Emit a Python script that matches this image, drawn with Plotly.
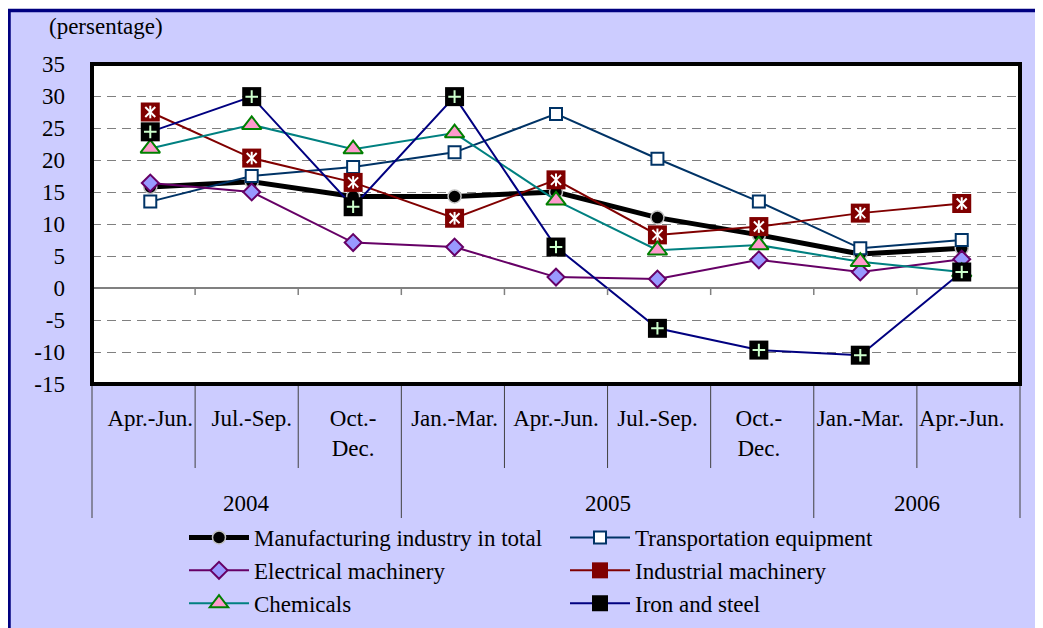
import plotly.graph_objects as go

# ---------------- data ----------------
periods = ["2004 Apr.-Jun.", "2004 Jul.-Sep.", "2004 Oct.-Dec.", "2005 Jan.-Mar.", "2005 Apr.-Jun.",
           "2005 Jul.-Sep.", "2005 Oct.-Dec.", "2006 Jan.-Mar.", "2006 Apr.-Jun."]
years = ["2004", "2004", "2004", "2005", "2005", "2005", "2005", "2006", "2006"]
quarters = ["Apr.-Jun.", "Jul.-Sep.", "Oct.-<br>Dec.", "Jan.-Mar.", "Apr.-Jun.",
            "Jul.-Sep.", "Oct.-<br>Dec.", "Jan.-Mar.", "Apr.-Jun."]

manufacturing = [15.8, 16.6, 14.3, 14.3, 15.0, 11.0, 8.3, 5.3, 6.2]
transportation = [13.5, 17.5, 18.9, 21.2, 27.2, 20.2, 13.5, 6.2, 7.5]
electrical = [16.4, 15.0, 7.1, 6.4, 1.7, 1.4, 4.4, 2.5, 4.5]
industrial = [27.5, 20.3, 16.5, 10.9, 16.9, 8.3, 9.6, 11.7, 13.2]
chemicals = [21.8, 25.5, 21.7, 24.2, 13.7, 5.9, 6.7, 4.1, 2.5]
iron_steel = [24.4, 29.9, 12.7, 29.9, 6.4, -6.3, -9.7, -10.5, 2.5]

y_tickvals = [-15, -10, -5, 0, 5, 10, 15, 20, 25, 30, 35]
y_ticktext = ["-15", "-10", "-5", "0", "5", "10", "15", "20", "25", "30", "35"]

FONT = "Liberation Serif, Times New Roman, serif"
FS = 23

fig = go.Figure()

fig.add_trace(go.Scatter(
    x=periods, y=manufacturing, name="Manufacturing industry in total", mode="lines+markers",
    line=dict(color="black", width=5),
    marker=dict(symbol="circle", size=13, color="black", line=dict(color="#C0C0C0", width=1.5))))

fig.add_trace(go.Scatter(
    x=periods, y=transportation, name="Transportation equipment", mode="lines+markers",
    line=dict(color="#003366", width=2),
    marker=dict(symbol="square", size=12, color="white", line=dict(color="#003366", width=2))))

fig.add_trace(go.Scatter(
    x=periods, y=electrical, name="Electrical machinery", mode="lines+markers",
    line=dict(color="#660066", width=2),
    marker=dict(symbol="diamond", size=13, color="#9999FF", line=dict(color="#660066", width=2))))

fig.add_trace(go.Scatter(
    x=periods, y=industrial, name="Industrial machinery", mode="lines+markers",
    line=dict(color="#800000", width=2),
    marker=dict(symbol="square", size=19, color="#800000", line=dict(color="#800000", width=0))))
fig.add_trace(go.Scatter(
    x=periods, y=industrial, mode="markers", showlegend=False, hoverinfo="skip",
    marker=dict(symbol="x-thin", size=10, line=dict(color="white", width=2))))
fig.add_trace(go.Scatter(
    x=periods, y=industrial, mode="markers", showlegend=False, hoverinfo="skip",
    marker=dict(symbol="line-ns", size=9, line=dict(color="white", width=2))))

fig.add_trace(go.Scatter(
    x=periods, y=chemicals, name="Chemicals", mode="lines+markers",
    line=dict(color="#008080", width=2),
    marker=dict(symbol="triangle-up", size=17, color="#FF99CC", line=dict(color="#008000", width=2))))

fig.add_trace(go.Scatter(
    x=periods, y=iron_steel, name="Iron and steel", mode="lines+markers",
    line=dict(color="#000080", width=2),
    marker=dict(symbol="square", size=19, color="black", line=dict(color="black", width=0))))
fig.add_trace(go.Scatter(
    x=periods, y=iron_steel, mode="markers", showlegend=False, hoverinfo="skip",
    marker=dict(symbol="cross-thin", size=9, line=dict(color="#CCFFCC", width=2))))

# ---------------- decorations ----------------
W, H = 1043, 620            # page adds an 8px body margin
L, R, T, B = 84, 31, 56, 244
pw, ph = W - L - R, H - T - B

shapes = []
# outer chart-area frame
shapes.append(dict(type="rect", xref="paper", yref="paper",
                   x0=(1 - L) / pw, x1=(W + 20 - L) / pw,
                   y0=-(H + 20 - T - ph) / ph, y1=1 + (T - 2.5) / ph,
                   fillcolor="#CCCCFF", line=dict(color="#000080", width=3.5), layer="below"))
# white plot area
shapes.append(dict(type="rect", xref="x domain", yref="y domain", x0=0, x1=1, y0=0, y1=1,
                   fillcolor="white", line=dict(width=0), layer="below"))
n = len(periods)
group_bounds = [0] + [i for i in range(1, n) if years[i] != years[i - 1]] + [n]
for k in range(0, n + 1):
    if 0 < k < n:
        # small ticks on the zero line
        shapes.append(dict(type="line", xref="x domain", yref="y", x0=k / n, x1=k / n, y0=0, y1=-1.1,
                           line=dict(color="#808080", width=1.5)))
    depth = 134 if k in group_bounds else 84
    shapes.append(dict(type="line", xref="x domain", yref="y domain", x0=k / n, x1=k / n,
                       y0=0, y1=-depth / ph, line=dict(color="#404040", width=1)))
# plot border
shapes.append(dict(type="rect", xref="x domain", yref="y domain", x0=0, x1=1, y0=0, y1=1,
                   line=dict(color="black", width=4), layer="above"))

annotations = [dict(text="(persentage)", xref="paper", yref="paper",
                    x=(39 - L) / pw, xanchor="left", y=1 + (T - 19) / ph, yanchor="middle",
                    showarrow=False, font=dict(family=FONT, size=FS, color="black"))]
# year labels, centred under each group of quarters
for a, b in zip(group_bounds[:-1], group_bounds[1:]):
    annotations.append(dict(text=years[a], xref="x domain", yref="y domain",
                            x=(a + b) / 2 / n, xanchor="center", y=-(495 - T - ph) / ph, yanchor="middle",
                            showarrow=False, font=dict(family=FONT, size=FS, color="black")))

fig.update_layout(
    width=W, height=H,
    margin=dict(l=L, r=R, t=T, b=B, autoexpand=False),
    paper_bgcolor="white", plot_bgcolor="white",
    font=dict(family=FONT, size=FS, color="black"),
    showlegend=True,
    legend=dict(orientation="h", x=(176 - L) / pw, xanchor="left", y=-(508 - T - ph) / ph, yanchor="top",
                bgcolor="rgba(0,0,0,0)", font=dict(family=FONT, size=FS, color="black"),
                itemwidth=60, entrywidth=306, traceorder="normal", tracegroupgap=0),
    shapes=shapes,
    annotations=annotations,
)

fig.update_yaxes(range=[-15, 35], tickvals=y_tickvals, ticktext=y_ticktext,
                 showgrid=True, gridcolor="#808080", gridwidth=1.2, griddash="9px,6px",
                 zeroline=True, zerolinecolor="#808080", zerolinewidth=1.5,
                 ticks="", ticklabelstandoff=26, showline=False,
                 tickfont=dict(family=FONT, size=FS, color="black"))

fig.update_xaxes(type="category", categoryorder="array", categoryarray=periods,
                 tickvals=periods, ticktext=quarters,
                 showgrid=False, zeroline=False, ticks="",
                 ticklabelstandoff=18, showline=False,
                 tickfont=dict(family=FONT, size=FS, color="black"))

fig.write_html("out.html")
